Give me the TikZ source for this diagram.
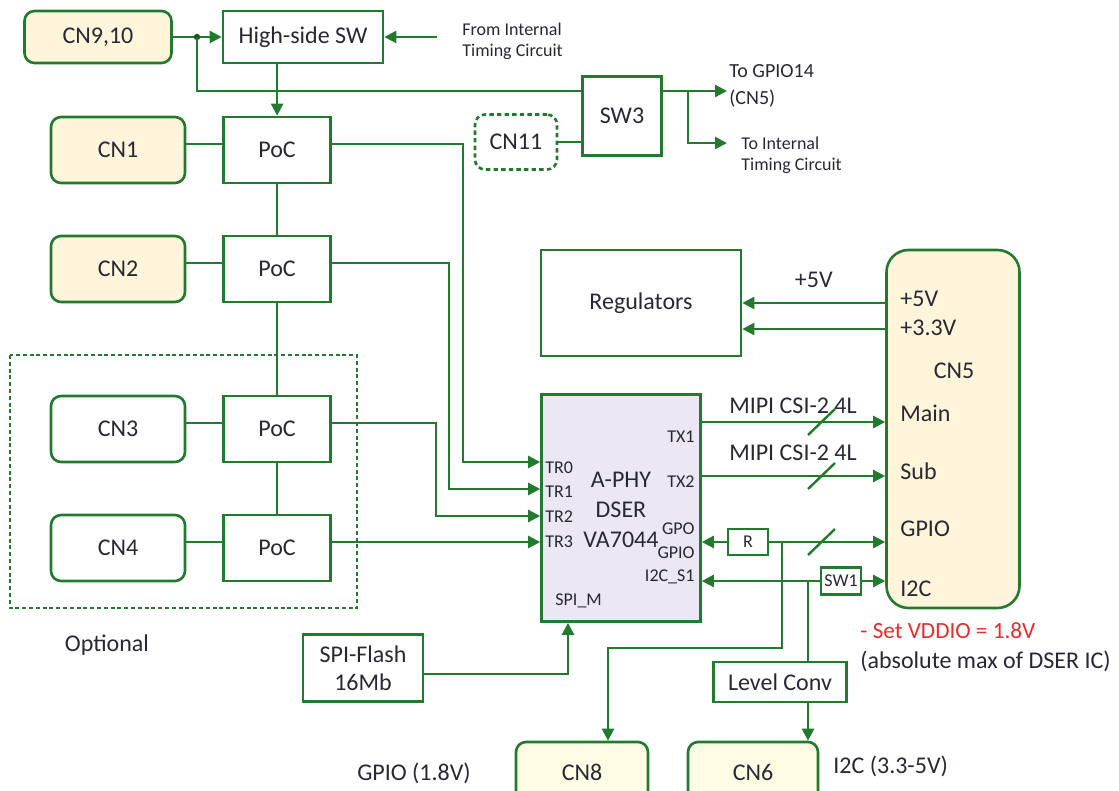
\documentclass[tikz,border=0pt]{standalone}
\usepackage{fontspec}
\setmainfont{Carlito}
\usetikzlibrary{arrows.meta,positioning}
\definecolor{grn}{RGB}{34,122,46}
\definecolor{cnfill}{RGB}{255,245,218}
\definecolor{cnlight}{RGB}{255,252,228}
\definecolor{dserfill}{RGB}{236,231,245}
\definecolor{note}{RGB}{232,44,44}
\definecolor{txt}{RGB}{40,40,52}
\tikzset{
  >={Triangle[length=6pt,width=6pt]},
  font=\fontsize{12}{14}\selectfont,
  conn/.style ={draw=grn, line width=1.3pt, rounded corners=5pt, fill=cnfill, minimum width=67pt, minimum height=33pt},
  blk/.style  ={draw=grn, line width=1.3pt, fill=white, minimum width=53.5pt, minimum height=33pt, align=center},
  sml/.style  ={draw=grn, line width=1.2pt, fill=white, inner sep=1pt, minimum width=20pt, minimum height=13pt, font=\fontsize{9}{10}\selectfont},
  pin/.style  ={font=\fontsize{9}{10}\selectfont, inner sep=0pt},
  lbl/.style  ={inner sep=0pt, align=left},
  ln/.style   ={draw=grn, line width=1.2pt},
  arr/.style  ={ln, ->},
}

\begin{document}
\begin{tikzpicture}[x=0.5pt, y=-0.5pt, every node/.append style={text=txt}]
  \useasboundingbox (0,0) rectangle (1119,791);

  % power input and PoC chain
  \node[conn, minimum width=73.5pt, minimum height=26pt] (cn910) at (98,37) {CN9,10};
  \node[blk, minimum width=80pt, minimum height=26pt] (hsw) at (303,37) {High-side SW};
  \node[lbl, font=\fontsize{9}{10.5}\selectfont, anchor=west] (fromtim) at (462,41) {From Internal\\Timing Circuit};
  \coordinate (jdot) at (197,37);
  \coordinate (timin) at (437,37);

  \node[conn] (cn1) at (118,150) {CN1};
  \node[blk, right=18pt of cn1] (poc1) {PoC};
  \node[conn] (cn2) at (118,269) {CN2};
  \node[blk, right=18pt of cn2] (poc2) {PoC};
  \node[conn, fill=white] (cn3) at (118,429) {CN3};
  \node[blk, right=18pt of cn3] (poc3) {PoC};
  \node[conn, fill=white] (cn4) at (118,548) {CN4};
  \node[blk, right=18pt of cn4] (poc4) {PoC};
  \draw[grn, line width=1.1pt, dash pattern=on 2pt off 1.4pt] (10,355) rectangle (357,608);
  \node[lbl] (optl) at (107,645) {Optional};

  \draw[arr] (cn910) -- (hsw);
  \fill[grn!70!black] (jdot) circle (1.6pt);
  \draw[arr] (timin) -- (hsw.east);
  \draw[arr] (hsw.south -| poc1.north) -- (poc1.north);
  \draw[ln] (poc1) -- (poc2) -- (poc3) -- (poc4);
  \foreach \i in {1,2,3,4}
    \draw[ln] ([yshift=3pt]cn\i.east) -- ([yshift=3pt]poc\i.west);

  % SW3
  \node[conn, fill=white, minimum width=41pt, minimum height=27.5pt, dash pattern=on 2.2pt off 1.6pt] (cn11) at (516,142) {CN11};
  \node[blk, minimum width=39.5pt, minimum height=39.5pt] (sw3) at (622,116) {SW3};
  \coordinate (jsw3) at (688,91);
  \coordinate (gpout) at (727,91);
  \coordinate (timout) at (727,143);
  \node[lbl, font=\fontsize{10}{13.5}\selectfont, anchor=west] (togp) at (729,86) {To GPIO14\\(CN5)};
  \node[lbl, font=\fontsize{9}{10.5}\selectfont, anchor=west] (totim) at (741,155) {To Internal\\Timing Circuit};
  \draw[ln] (jdot) |- (sw3.west |- gpout);
  \draw[ln] (cn11.east) -- (sw3.west |- cn11.east);
  \draw[arr] (sw3.east |- gpout) -- (gpout);
  \draw[arr] (jsw3) |- (timout);

  % deserializer and CN5
  \node[blk, minimum width=100pt, minimum height=53pt] (regs) at (641,303) {Regulators};
  \node[conn, minimum width=66.5pt, minimum height=179pt, rounded corners=11pt] (cn5) at (953,429) {};
  \node[blk, fill=dserfill, minimum width=79.5pt, minimum height=113.5pt] (dser) at (621,508) {};
  \node[lbl, align=center, font=\fontsize{12}{15}\selectfont] (dsert) at (621,510) {A-PHY\\DSER\\VA7044};

  \foreach \n/\y in {0/468,1/492,2/517,3/542}
    \node[pin, anchor=west] (tr\n) at (545,\y) {TR\n};
  \node[pin, anchor=east] (tx1) at (695,437) {TX1};
  \node[pin, anchor=east] (tx2) at (695,482) {TX2};
  \node[pin, anchor=east] (gpo) at (695,529) {GPO};
  \node[pin, anchor=east] (gpio) at (695,553) {GPIO};
  \node[pin, anchor=east] (i2cs) at (695,577) {I2C\_S1};
  \node[pin, anchor=west] (spim) at (555,601) {SPI\_M};

  \foreach \t/\y in {+5V/299,+3.3V/328,Main/413,Sub/471,GPIO/529,I2C/589}
    \node[lbl, anchor=west] at (900,\y) {\t};
  \node[lbl] (cn5t) at (954,371) {CN5};

  \draw[arr] ([yshift=3pt]poc1.east) -| (463,462) -- (dser.west |- 0,462);
  \draw[arr] ([yshift=3pt]poc2.east) -| (449,489) -- (dser.west |- 0,489);
  \draw[arr] ([yshift=3pt]poc3.east) -| (436,516) -- (dser.west |- 0,516);
  \draw[arr] ([yshift=3pt]poc4.east) -- (dser.west |- 0,542);

  \draw[arr] (cn5.west |- 0,303) -- node[lbl, above=7pt] {+5V} (regs.east |- 0,303);
  \draw[arr] (cn5.west |- 0,329) -- (regs.east |- 0,329);
  \draw[arr] (dser.east |- 0,422) -- (cn5.west |- 0,422);
  \draw[arr] (dser.east |- 0,476) -- (cn5.west |- 0,476);
  \node[lbl] (mipi1) at (793,406) {MIPI CSI-2 4L};
  \node[lbl] (mipi2) at (793,453) {MIPI CSI-2 4L};
  \foreach \y in {422,476,542}
    \draw[ln] (808,\y+13) -- (835,\y-13);

  % GPIO / I2C side
  \node[sml] (rres) at (748,542) {R};
  \node[sml, minimum height=13.5pt] (sw1) at (841,581) {SW1};
  \node[blk, minimum width=66.5pt, minimum height=20pt] (lvl) at (780,682) {Level Conv};
  \node[conn, fill=cnlight, minimum width=66pt, minimum height=30pt] (cn8) at (582,772) {CN8};
  \node[conn, fill=cnlight, minimum width=65pt, minimum height=30pt] (cn6) at (753,772) {CN6};
  \coordinate (jgpio) at (782,542);
  \coordinate (jcn8) at (608,648);
  \coordinate (ji2c) at (808,581);

  \draw[arr] (rres.west) -- (dser.east |- rres.west);
  \draw[arr] (rres.east) -- (cn5.west |- rres.east);
  \draw[arr] (sw1.west) -- (dser.east |- sw1.west);
  \draw[arr] (sw1.east) -- (cn5.west |- sw1.east);
  \draw[arr] (jgpio) |- (jcn8) -- (jcn8 |- cn8.north);
  \draw[ln] (ji2c) -- (ji2c |- lvl.north);
  \draw[arr] (ji2c |- lvl.south) -- (ji2c |- cn6.north);

  \node[lbl] (gp18) at (414,773) {GPIO (1.8V)};
  \node[lbl, anchor=west] (i2c35) at (833,766) {I2C (3.3-5V)};
  \node[lbl, anchor=west, text=note, font=\fontsize{11.6}{13}\selectfont] (vdd) at (860,631) {- Set VDDIO = 1.8V};
  \node[lbl, anchor=west] (absm) at (860,661) {(absolute max of DSER IC)};

  % SPI flash
  \node[blk, minimum width=60pt, minimum height=33.5pt] (flash) at (363,668) {SPI-Flash\\16Mb};
  \coordinate (spix) at (568,0);
  \draw[arr] ([yshift=-3pt]flash.east) -| (spix |- dser.south);
\end{tikzpicture}
\end{document}
